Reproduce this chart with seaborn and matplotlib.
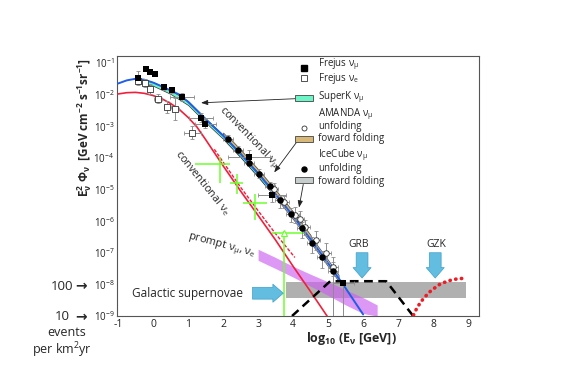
import numpy as np
import pandas as pd
import matplotlib
matplotlib.use("Agg")
import matplotlib.pyplot as plt
import seaborn as sns
from matplotlib.patches import Rectangle
from matplotlib.ticker import FixedLocator, MultipleLocator, LogLocator, NullFormatter

# ---------------- data (x = log10(E/GeV), y = log10(E^2 Phi)) ----------------
conv_mu_logE = [-1.0, -0.75, -0.5, -0.25, 0.0, 0.25, 0.5, 0.75, 1.0, 1.25, 1.5, 1.75,
                2.0, 2.5, 3.0, 3.5, 4.0, 4.5, 5.0, 5.5, 6.0]
conv_mu_logF = [-1.65, -1.55, -1.5, -1.53, -1.62, -1.74, -1.87, -2.0, -2.23, -2.5, -2.78, -3.04,
                -3.3, -3.88, -4.5, -5.15, -5.84, -6.58, -7.33, -8.12, -8.95]

conv_e_logE = [-1.0, -0.75, -0.5, -0.25, 0.0, 0.25, 0.5, 0.75, 1.0, 1.25, 1.5, 2.0, 2.5,
               3.0, 3.5, 4.0, 4.5, 5.0]
conv_e_logF = [-1.98, -1.94, -1.93, -1.96, -2.03, -2.13, -2.28, -2.47, -2.72, -3.02, -3.42,
               -4.25, -5.05, -5.82, -6.6, -7.43, -8.23, -9.05]

conv_e2_logE = [1.75, 2.5, 3.0, 3.5, 4.05]
conv_e2_logF = [-3.73, -4.93, -5.67, -6.4, -7.15]

sk_logE = [-0.5, 0.0, 0.5, 1.0, 1.5, 2.0, 2.5, 3.0, 3.3]
sk_lo = [-1.62, -1.72, -1.98, -2.33, -2.88, -3.4, -3.98, -4.6, -5.0]
sk_hi = [-1.5, -1.6, -1.86, -2.2, -2.75, -3.27, -3.85, -4.47, -4.86]

amb_logE = [2.2, 2.5, 3.0, 3.5, 4.0, 4.5]
amb_lo = [-3.53, -3.88, -4.5, -5.15, -5.84, -6.58]
amb_hi = [-3.39, -3.74, -4.36, -5.01, -5.7, -6.44]

icb_logE = [2.0, 2.5, 3.0, 3.5, 4.0, 4.5, 5.0, 5.3]
icb_lo = [-3.4, -3.98, -4.6, -5.25, -5.94, -6.68, -7.43, -7.9]
icb_hi = [-3.2, -3.78, -4.4, -5.05, -5.74, -6.48, -7.23, -7.7]

prompt_logE = [3.0, 3.5, 4.0, 4.5, 5.0, 5.5, 6.0, 6.4]
prompt_hi = [-6.89, -7.15, -7.43, -7.68, -7.92, -8.17, -8.42, -8.65]
prompt_lo = [-7.24, -7.5, -7.77, -8.06, -8.35, -8.65, -8.92, -9.0]

gal_logE = [3.8, 8.95]
gal_lo = [-8.43, -8.43]
gal_hi = [-7.93, -7.93]

grb_logE = [3.97, 5.06, 6.66, 7.43]
grb_logF = [-9.0, -7.9, -7.9, -9.0]

gzk_logE = [7.44, 7.53, 7.65, 7.77, 7.91, 8.06, 8.2, 8.36, 8.5, 8.67, 8.85]
gzk_logF = [-8.97, -8.76, -8.55, -8.39, -8.23, -8.1, -7.99, -7.92, -7.87, -7.83, -7.81]

frejus_mu_logE = [-0.43, -0.2, -0.09, 0.06, 0.31, 0.54, 0.83, 1.37, 1.49, 2.74, 3.4, 5.43]
frejus_mu_logF = [-1.47, -1.19, -1.28, -1.35, -1.76, -1.85, -2.07, -2.73, -2.92, -3.96, -5.16, -7.96]
frejus_mu_xerr = [0, 0, 0, 0, 0, 0, 0.35, 0.35, 0.3, 0.6, 0.4, 0.3]
frejus_mu_ylo = [0.2, 0, 0, 0, 0.1, 0.1, 0.12, 0.15, 0.15, 0.2, 0.25, 1.1]
frejus_mu_yhi = [0.2, 0, 0, 0, 0.1, 0.1, 0.12, 0.15, 0.15, 0.2, 0.25, 0.1]

frejus_e_logE = [-0.43, -0.23, -0.09, 0.14, 0.4, 0.63, 1.12]
frejus_e_logF = [-1.57, -1.63, -1.82, -2.13, -2.39, -2.45, -3.2]
frejus_e_xerr = [0, 0, 0, 0.12, 0.1, 0.1, 0.25]
frejus_e_yerr = [0.12, 0.12, 0.15, 0.15, 0.2, 0.35, 0.2]

ic_logE = [2.14, 2.43, 2.74, 3.03, 3.34, 3.63, 3.94, 4.26, 4.54, 4.83, 5.14]
ic_logF = [-3.39, -3.74, -4.15, -4.5, -4.9, -5.33, -5.79, -6.23, -6.7, -7.14, -7.58]
ic_xerr = [0.15, 0.15, 0.15, 0.15, 0.15, 0.15, 0.15, 0.15, 0.15, 0.15, 0.15]
ic_ylo = [0.1, 0.1, 0.12, 0.15, 0.2, 0.25, 0.25, 0.3, 0.3, 0.35, 1.45]
ic_yhi = [0.1, 0.1, 0.12, 0.15, 0.15, 0.15, 0.2, 0.2, 0.2, 0.2, 0.3]

am_logE = [3.45, 3.75, 4.05, 4.2, 4.35, 4.65, 4.95, 5.14]
am_logF = [-5.0, -5.4, -5.8, -5.92, -6.2, -6.6, -7.0, -7.45]
am_xerr = [0.12, 0.12, 0.12, 0.12, 0.12, 0.12, 0.12, 0.15]
am_yerr = [0.2, 0.2, 0.25, 0.25, 0.25, 0.3, 0.3, 0.3]

green_logE = [1.91, 2.4, 2.91, 3.74]
green_logF = [-4.21, -4.78, -5.44, -6.37]
green_xlo = [1.2, 2.2, 2.57, 3.4]
green_xhi = [2.2, 2.57, 3.26, 4.3]
green_ylo = [-4.78, -5.13, -5.98, -9.0]
green_yhi = [-3.98, -4.5, -5.13, -6.3]

ytick_exps = [-9, -8, -7, -6, -5, -4, -3, -2, -1]
xtick_vals = [-1, 0, 1, 2, 3, 4, 5, 6, 7, 8, 9]

# ---------------- style ----------------
sns.set_theme(style="white")
plt.rcParams['font.family'] = ['Open Sans', 'DejaVu Sans']
plt.rcParams['mathtext.fontset'] = 'custom'
plt.rcParams['mathtext.rm'] = 'Open Sans'
plt.rcParams['mathtext.it'] = 'Open Sans:italic'
plt.rcParams['mathtext.bf'] = 'Open Sans:bold'
plt.rcParams['mathtext.sf'] = 'Open Sans'


def P(v):
    return np.power(10.0, np.asarray(v, dtype=float))


fig = plt.figure(figsize=(5.68, 3.82), dpi=100)
fig.patch.set_facecolor('white')
ax = fig.add_axes([117 / 568, 66 / 382, 362 / 568, 260 / 382])
ax.set_yscale('log')
ax.set_xlim(-1.03, 9.31)
ax.set_ylim(1e-9, 10 ** -0.78)

# background bands
ax.fill_between(gal_logE, P(gal_lo), P(gal_hi), color='#a3a3a3', alpha=0.85, lw=0, zorder=1)
ax.fill_between(prompt_logE, P(prompt_lo), P(prompt_hi), color='#cc5ff0', alpha=0.65, lw=0, zorder=2)

# bands along conventional nu_mu
ax.fill_between(icb_logE, P(icb_lo), P(icb_hi), facecolor='#c6cdcc', edgecolor='#444444', lw=0.5, zorder=3)
ax.fill_between(amb_logE, P(amb_lo), P(amb_hi), facecolor='#d8b878', edgecolor='#444444', lw=0.5, zorder=3)
ax.fill_between(sk_logE, P(sk_lo), P(sk_hi), facecolor='#6df5c8', edgecolor='#333333', lw=0.5, zorder=3)

# model curves
sns.lineplot(x=conv_mu_logE, y=P(conv_mu_logF), ax=ax, color='#1f5fe8', lw=1.4, zorder=4)
sns.lineplot(x=conv_e_logE, y=P(conv_e_logF), ax=ax, color='#f0203c', lw=1.2, zorder=4)
sns.lineplot(x=conv_e2_logE, y=P(conv_e2_logF), ax=ax, color='#f0203c', lw=1.0,
             linestyle=(0, (2.5, 1.2)), zorder=4)
sns.lineplot(x=grb_logE, y=P(grb_logF), ax=ax, color='black', lw=1.8,
             linestyle=(0, (3.5, 2.2)), zorder=5)
ax.plot(gzk_logE, P(gzk_logF), color='#ee1c24', lw=2.6, linestyle=(0, (0.1, 1.5)),
        dash_capstyle='round', zorder=5)

# green crosses
gy = P(green_logF)
ax.errorbar(green_logE, gy,
            xerr=[np.subtract(green_logE, green_xlo), np.subtract(green_xhi, green_logE)],
            yerr=[gy - P(green_ylo), P(green_yhi) - gy],
            fmt='none', ecolor='#6cff2e', elinewidth=1.1, capsize=0, zorder=5)
ax.plot(green_logE[3], gy[3], marker='^', ms=4, mfc='white', mec='#6cff2e', mew=0.8, zorder=6)

# data points with error bars
err_kw = dict(fmt='none', ecolor='#8c8c8c', elinewidth=0.7, capsize=1.5, capthick=0.6, zorder=6)

fy = P(frejus_mu_logF)
ax.errorbar(frejus_mu_logE, fy, xerr=frejus_mu_xerr,
            yerr=[fy - P(np.subtract(frejus_mu_logF, frejus_mu_ylo)),
                  P(np.add(frejus_mu_logF, frejus_mu_yhi)) - fy], **err_kw)
ey = P(frejus_e_logF)
ax.errorbar(frejus_e_logE, ey, xerr=frejus_e_xerr,
            yerr=[ey - P(np.subtract(frejus_e_logF, frejus_e_yerr)),
                  P(np.add(frejus_e_logF, frejus_e_yerr)) - ey], **err_kw)
ay = P(am_logF)
ax.errorbar(am_logE, ay, xerr=am_xerr,
            yerr=[ay - P(np.subtract(am_logF, am_yerr)), P(np.add(am_logF, am_yerr)) - ay], **err_kw)
iy = P(ic_logF)
ax.errorbar(ic_logE, iy, xerr=ic_xerr,
            yerr=[iy - P(np.subtract(ic_logF, ic_ylo)), P(np.add(ic_logF, ic_yhi)) - iy], **err_kw)

sns.scatterplot(x=am_logE, y=ay, ax=ax, marker='o', s=16, facecolor='white',
                edgecolor='#333333', linewidth=0.6, zorder=7)
sns.scatterplot(x=frejus_e_logE, y=ey, ax=ax, marker='s', s=18, facecolor='white',
                edgecolor='#333333', linewidth=0.6, zorder=7)
sns.scatterplot(x=ic_logE, y=iy, ax=ax, marker='o', s=22, color='black', linewidth=0, zorder=8)
sns.scatterplot(x=frejus_mu_logE, y=fy, ax=ax, marker='s', s=22, color='black', linewidth=0, zorder=8)

# ---------------- axes cosmetics ----------------
ax.yaxis.set_major_locator(FixedLocator(P(ytick_exps)))
ax.set_yticklabels([r'$10^{%d}$' % e for e in ytick_exps], fontsize=7)
ax.yaxis.set_minor_locator(LogLocator(base=10, subs=np.arange(2, 10)))
ax.yaxis.set_minor_formatter(NullFormatter())
ax.xaxis.set_major_locator(FixedLocator(xtick_vals))
ax.set_xticklabels([str(v) for v in xtick_vals], fontsize=7.5)
ax.xaxis.set_minor_locator(MultipleLocator(0.2))
ax.tick_params(which='both', direction='in', top=False, right=False, colors='#222222')
ax.tick_params(which='major', length=4, width=0.6, pad=2)
ax.tick_params(which='minor', length=2, width=0.5)
for s in ax.spines.values():
    s.set_color('#555555')
    s.set_linewidth(0.8)
ax.set_xlabel('')
ax.set_ylabel('')

# ---------------- annotations ----------------
ax.text(2.72, P(-3.35), r'conventional $\mathrm{\nu_{\mu}}$', rotation=-46, fontsize=7.8,
        ha='center', va='center', rotation_mode='anchor', zorder=9)
ax.text(1.42, P(-4.8), r'conventional $\mathrm{\nu_{e}}$', rotation=-51, fontsize=7.8,
        ha='center', va='center', rotation_mode='anchor', zorder=9)
ax.text(1.95, P(-6.76), r'prompt $\mathrm{\nu_{\mu}}$, $\mathrm{\nu_{e}}$', rotation=-15, fontsize=7.8,
        ha='center', va='center', rotation_mode='anchor', zorder=9)
ax.text(-0.6, P(-8.28), 'Galactic supernovae', fontsize=8.5, ha='left', va='center', zorder=9)
ax.text(5.86, P(-6.73), 'GRB', fontsize=7.5, ha='center', va='center')
ax.text(8.09, P(-6.73), 'GZK', fontsize=7.5, ha='center', va='center')

arrow_kw = dict(arrowstyle='simple,head_width=1.3,head_length=0.75,tail_width=0.85',
                fc='#63bde0', ec='#3f9fca', lw=0.5, mutation_scale=10, shrinkA=0, shrinkB=0)
ax.annotate('', xy=(5.97, P(-7.8)), xytext=(5.97, P(-7.0)), arrowprops=arrow_kw, zorder=9)
ax.annotate('', xy=(8.06, P(-7.8)), xytext=(8.06, P(-7.0)), arrowprops=arrow_kw, zorder=9)
ax.annotate('', xy=(3.72, P(-8.28)), xytext=(2.84, P(-8.28)), arrowprops=arrow_kw, zorder=9)

line_kw = dict(arrowstyle='-|>,head_width=0.15,head_length=0.4', color='#222222', lw=0.6,
               shrinkA=0, shrinkB=0, mutation_scale=10)
ax.annotate('', xy=(1.37, P(-2.26)), xytext=(4.06, P(-2.13)), arrowprops=line_kw, zorder=9)
ax.annotate('', xy=(3.46, P(-4.46)), xytext=(4.09, P(-3.52)), arrowprops=line_kw, zorder=9)
ax.annotate('', xy=(4.17, P(-5.57)), xytext=(4.29, P(-4.84)), arrowprops=line_kw, zorder=9)

# custom legend (axes fraction)
tx = 0.555
mx = 0.517
lfs = 7.0
ax.plot(mx, 0.954, marker='s', ms=4.0, color='black', transform=ax.transAxes, clip_on=False)
ax.text(tx, 0.968, r'Frejus $\mathrm{\nu_{\mu}}$', fontsize=lfs, va='center', transform=ax.transAxes)
ax.plot(mx, 0.915, marker='s', ms=4.0, mfc='white', mec='#333333', mew=0.6, transform=ax.transAxes, clip_on=False)
ax.text(tx, 0.914, r'Frejus $\mathrm{\nu_{e}}$', fontsize=lfs, va='center', transform=ax.transAxes)
ax.add_patch(Rectangle((0.492, 0.826), 0.049, 0.023, transform=ax.transAxes,
                       facecolor='#6df5c8', edgecolor='#444444', lw=0.6, zorder=9))
ax.text(tx, 0.842, r'SuperK $\mathrm{\nu_{\mu}}$', fontsize=lfs, va='center', transform=ax.transAxes)
ax.text(tx, 0.777, r'AMANDA $\mathrm{\nu_{\mu}}$', fontsize=lfs, va='center', transform=ax.transAxes)
ax.plot(mx, 0.723, marker='o', ms=3.6, mfc='white', mec='#333333', mew=0.6, transform=ax.transAxes, clip_on=False)
ax.text(tx, 0.727, 'unfolding', fontsize=lfs, va='center', transform=ax.transAxes)
ax.add_patch(Rectangle((0.492, 0.670), 0.049, 0.023, transform=ax.transAxes,
                       facecolor='#d8b878', edgecolor='#444444', lw=0.6, zorder=9))
ax.text(tx, 0.681, 'foward folding', fontsize=lfs, va='center', transform=ax.transAxes)
ax.text(tx, 0.619, r'IceCube $\mathrm{\nu_{\mu}}$', fontsize=lfs, va='center', transform=ax.transAxes)
ax.plot(mx, 0.565, marker='o', ms=3.6, color='black', transform=ax.transAxes, clip_on=False)
ax.text(tx, 0.569, 'unfolding', fontsize=lfs, va='center', transform=ax.transAxes)
ax.add_patch(Rectangle((0.492, 0.511), 0.049, 0.023, transform=ax.transAxes,
                       facecolor='#c6cdcc', edgecolor='#444444', lw=0.6, zorder=9))
ax.text(tx, 0.519, 'foward folding', fontsize=lfs, va='center', transform=ax.transAxes)

# axis labels
fig.text(85 / 568, 1 - 127 / 382,
         r'$\mathbf{E^{2}_{\nu}\ \Phi_{\nu}}$  [GeV cm$^{\mathbf{-2}}$ s$^{\mathbf{-1}}$sr$^{\mathbf{-1}}$]',
         rotation=90, fontsize=8.5, fontweight='bold', ha='center', va='center')
ax.text((351 - 117) / 362, -0.085, r'log$_{\mathbf{10}}$ (E$_{\mathbf{\nu}}$ [GeV])',
        fontsize=9, fontweight='bold', ha='center', va='center', transform=ax.transAxes)

# left side event-rate annotations
fig.text(73 / 568, 1 - 286 / 382, '100', fontsize=9.5, ha='right', va='center')
fig.text(81 / 568, 1 - 286 / 382, '\u2192', fontsize=10, fontweight='bold', ha='center', va='center',
         family=['DejaVu Sans'])
fig.text(70 / 568, 1 - 317 / 382, '10', fontsize=9.5, ha='right', va='center')
fig.text(81 / 568, 1 - 317 / 382, '\u2192', fontsize=10, fontweight='bold', ha='center', va='center',
         family=['DejaVu Sans'])
fig.text(67 / 568, 1 - 333 / 382, 'events', fontsize=9, ha='center', va='center')
fig.text(62 / 568, 1 - 350 / 382, 'per km$^{2}$yr', fontsize=9, ha='center', va='center')

fig.savefig('out.png', dpi=100, facecolor='white')
